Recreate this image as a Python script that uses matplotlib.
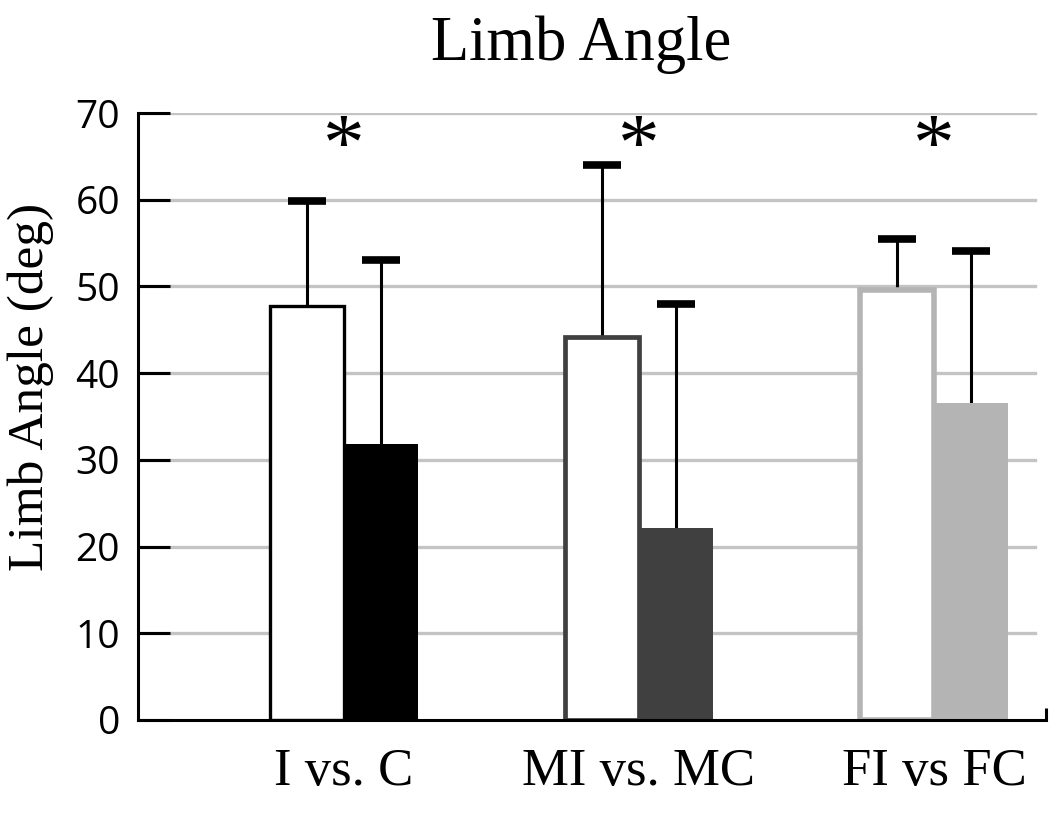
import numpy as np
import matplotlib
matplotlib.use('Agg')
import matplotlib.pyplot as plt

# data
groups = ['I vs. C', 'MI vs. MC', 'FI vs FC']
impaired = [47.7, 44.2, 49.6]
impaired_err = [12.1, 19.8, 5.9]
control = [31.8, 22.1, 36.5]
control_err = [21.3, 25.9, 17.6]
star_y = 65.7
yticks = [0, 10, 20, 30, 40, 50, 60, 70]

edge_cols = ['black', '#404040', '#b4b4b4']
edge_lw = [2.4, 3.4, 4.0]
serif = 'Liberation Serif'

fig = plt.figure(figsize=(10.5, 8.14), dpi=100)
ax = fig.add_axes([138 / 1050, 1 - 720 / 814, 908 / 1050, 607 / 814])

x = np.arange(len(groups))
w = 0.25

for yv in yticks[1:]:
    ax.axhline(yv, xmin=0, xmax=0.988, color='#c4c4c4', lw=2.4, zorder=0)

# white bars with coloured outline, filled bars beside them
ax.bar(x - w / 2, impaired, width=w, color='white', edgecolor=edge_cols,
       linewidth=edge_lw, zorder=2)
ax.bar(x + w / 2, control, width=w, color=edge_cols, edgecolor=edge_cols,
       linewidth=0, zorder=2)

# upper error bars only
err_kw = dict(fmt='none', ecolor='black', elinewidth=2.2, capsize=13.5,
              capthick=5.5, zorder=1)
for xs, vals, errs in [(x - w / 2, impaired, impaired_err),
                       (x + w / 2, control, control_err)]:
    eb = ax.errorbar(xs, vals, yerr=[np.zeros(3), errs], **err_kw)
    eb[1][0].set_visible(False)

for xi in x:
    ax.text(xi, star_y, '*', ha='center', va='center', fontsize=60,
            family=serif)

ax.set_xlim(-0.698, 2.38)
ax.set_ylim(0, 70)
ax.set_yticks(yticks)
ax.set_yticklabels([str(v) for v in yticks], fontsize=28, family='Open Sans')
ax.tick_params(axis='y', direction='in', length=23, width=2.2, pad=13)
ax.set_xticks(x)
ax.set_xticklabels(groups, fontsize=38, family=serif)
ax.tick_params(axis='x', length=0, pad=20)
ax.set_xticks([2.38], minor=True)
ax.tick_params(axis='x', which='minor', direction='in', length=9, width=2.2)

for s in ['top', 'right']:
    ax.spines[s].set_visible(False)
for s in ['left', 'bottom']:
    ax.spines[s].set_linewidth(2.2)

ax.set_ylabel('Limb Angle (deg)', fontsize=37, family=serif)
ax.yaxis.set_label_coords(-0.093, 0.549)

fig.text(581 / 1050, 1 - 60 / 814, 'Limb Angle', ha='center', va='baseline',
         fontsize=45, family=serif)

fig.savefig('out.png', dpi=100)
